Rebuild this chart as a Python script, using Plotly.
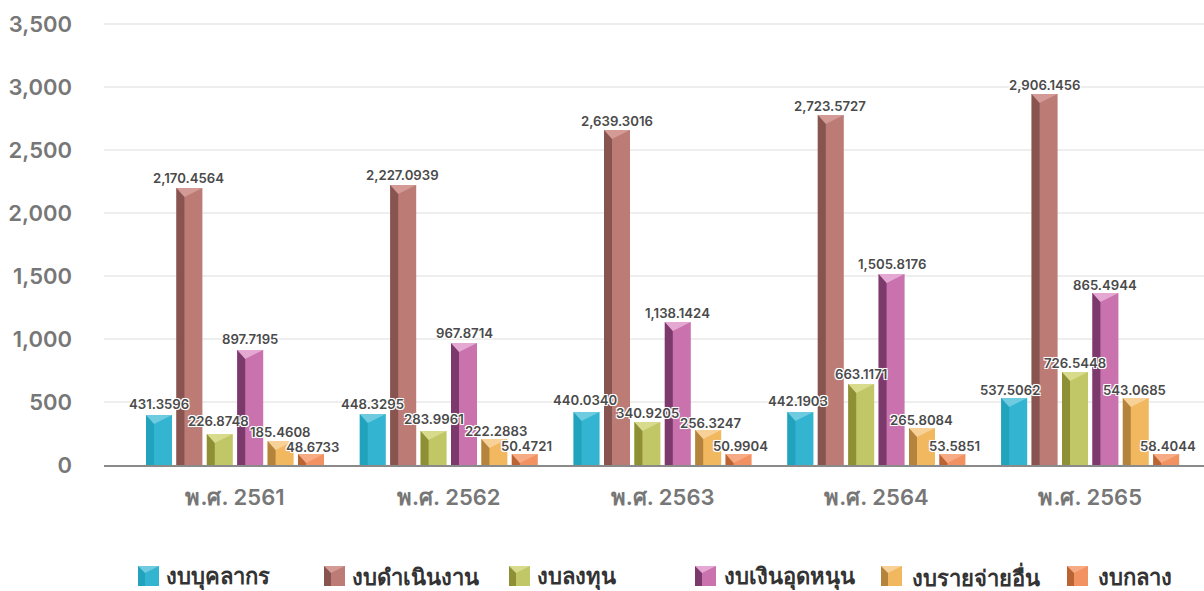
import plotly.graph_objects as go

years = ["พ.ศ. 2561", "พ.ศ. 2562", "พ.ศ. 2563", "พ.ศ. 2564", "พ.ศ. 2565"]
names = ["งบบุคลากร", "งบดำเนินงาน", "งบลงทุน", "งบเงินอุดหนุน", "งบรายจ่ายอื่น", "งบกลาง"]

# Bar heights as drawn in the picture (they differ a little from the printed labels)
personnel = [397, 405, 421, 421, 532]
operating = [2198, 2222, 2659, 2778, 2944]
investment = [246, 270, 341, 643, 738]
subsidy = [913, 968, 1135, 1516, 1365]
other = [190, 206, 278, 294, 532]
central = [87, 87, 87, 87, 87]
series = [personnel, operating, investment, subsidy, other, central]

# Printed data labels
personnel_labels = ["431.3596", "448.3295", "440.0340", "442.1903", "537.5062"]
operating_labels = ["2,170.4564", "2,227.0939", "2,639.3016", "2,723.5727", "2,906.1456"]
investment_labels = ["226.8748", "283.9961", "340.9205", "663.1171", "726.5448"]
subsidy_labels = ["897.7195", "967.8714", "1,138.1424", "1,505.8176", "865.4944"]
other_labels = ["185.4608", "222.2883", "256.3247", "265.8084", "543.0685"]
central_labels = ["48.6733", "50.4721", "50.9904", "53.5851", "58.4044"]
labels = [personnel_labels, operating_labels, investment_labels, subsidy_labels, other_labels, central_labels]
yticks = [0, 500, 1000, 1500, 2000, 2500, 3000, 3500]

front = ["#33b5d1", "#bc7b75", "#c1c666", "#c972ae", "#f2b85f", "#f29263"]
side = ["#22a3bd", "#875450", "#8f9035", "#7c3a6c", "#b5843c", "#bb6433"]
top = ["#6fcbdf", "#d39a96", "#d8db8b", "#e5a8d3", "#f7d197", "#f7ab85"]

W, H = 1204, 591
L, R, T, B = 104, 0, 22, 126
PW, PH = W - L - R, H - T - B
SPACING = 213.8
FIRST = 235
PX = 1 / SPACING
YMAX = 3516
PY = YMAX / PH
SLOT, BW, SW, DEPTH = 30.4 * PX, 26 * PX, 8 * PX, 9 * PY
FONT = "Inter, 'Noto Sans', sans-serif"

# label placement tweaks in pixels, per series per year
nudge_x = [
    [0, 0, -1, -2, -4],
    [-1, -1, 0, -1, 0],
    [-1, 0, 0, 0, 0],
    [0, 0, 0, 0, 0],
    [0, 2, 3, -1, -1],
    [1, 2, 2, 2, 2],
]
lift = [
    [11, 10, 12, 11, 8],
    [10, 10, 9, 9, 9],
    [13, 12, 9, 10, 9],
    [11, 10, 9, 10, 8],
    [9, 8, 7, 8, 8],
    [7, 8, 8, 8, 8],
]

fig = go.Figure()
annotations = []
halo = "-1px -1px 0 #fff,1px -1px 0 #fff,-1px 1px 0 #fff,1px 1px 0 #fff,0 0 2px #fff"
for i, vals in enumerate(series):
    off = (i - 3) * SLOT + (SLOT - BW) / 2
    xs = list(range(len(years)))
    fig.add_trace(go.Bar(x=xs, y=vals, name=names[i], width=BW, offset=off,
                         marker=dict(color=front[i], line_width=0), showlegend=False))
    fig.add_trace(go.Bar(x=xs, y=vals, width=SW, offset=off,
                         marker=dict(color=side[i], line_width=0), showlegend=False, hoverinfo="skip"))
    tx, ty = [], []
    for g, v in zip(xs, vals):
        l = g + off
        tx += [l, l + BW, l + SW, l, None]
        ty += [v, v, max(v - DEPTH, 0), v, None]
    fig.add_trace(go.Scatter(x=tx, y=ty, mode="lines", fill="toself", fillcolor=top[i],
                             line=dict(width=0), showlegend=False, hoverinfo="skip"))
    for g, v in zip(xs, vals):
        annotations.append(dict(x=g + off + BW / 2, y=v, xref="x", yref="y", text=labels[i][g],
                                showarrow=False, xshift=nudge_x[i][g], yshift=lift[i][g],
                                font=dict(family=FONT, size=13.2, color="#4a4a4a", weight=600, shadow=halo)))

def px(x): return (x - L) / PW
def py(y): return (H - B - y) / PH

shapes = []
swatch_x = [138, 324, 509, 695, 881, 1067]
text_x = [164, 350, 535, 722, 910, 1096]
for i, (sx, tx0) in enumerate(zip(swatch_x, text_x)):
    t, b, w, d = 566, 586, 21, 7
    shapes.append(dict(type="rect", xref="paper", yref="paper", x0=px(sx), x1=px(sx + w), y0=py(b), y1=py(t),
                       fillcolor=front[i], line_width=0))
    shapes.append(dict(type="rect", xref="paper", yref="paper", x0=px(sx), x1=px(sx + d), y0=py(b), y1=py(t),
                       fillcolor=side[i], line_width=0))
    path = f"M {px(sx)} {py(t)} L {px(sx + w)} {py(t)} L {px(sx + d)} {py(t + d)} Z"
    shapes.append(dict(type="path", xref="paper", yref="paper", path=path, fillcolor=top[i], line_width=0))
    annotations.append(dict(x=px(tx0), y=py(576.5), xref="paper", yref="paper", xanchor="left", yanchor="middle",
                            text=names[i], showarrow=False,
                            font=dict(family=FONT, size=22, color="#333333", weight=700)))

fig.update_layout(
    width=W, height=H, margin=dict(l=L, r=R, t=T, b=B, autoexpand=False),
    barmode="overlay", paper_bgcolor="white", plot_bgcolor="white", showlegend=False,
    annotations=annotations, shapes=shapes,
    xaxis=dict(range=[-(FIRST - L) * PX, (W - FIRST) * PX], tickmode="array",
               tickvals=list(range(len(years))), ticktext=years, showgrid=False, zeroline=False,
               showline=True, linecolor="#8a8a8a", linewidth=2, ticks="", ticklabelstandoff=12,
               tickfont=dict(family=FONT, size=22, color="#777777", weight=600)),
    yaxis=dict(range=[0, YMAX], tickmode="array", tickvals=yticks, tickformat=",",
               gridcolor="#eeeeee", gridwidth=2, zeroline=False, showline=False, ticks="",
               ticklabelstandoff=31, tickfont=dict(family=FONT, size=22, color="#777777", weight=600)),
)
fig.write_html("out.html", config=dict(displayModeBar=False),
               post_script="document.body.style.margin='0';document.documentElement.style.overflow='hidden';")
